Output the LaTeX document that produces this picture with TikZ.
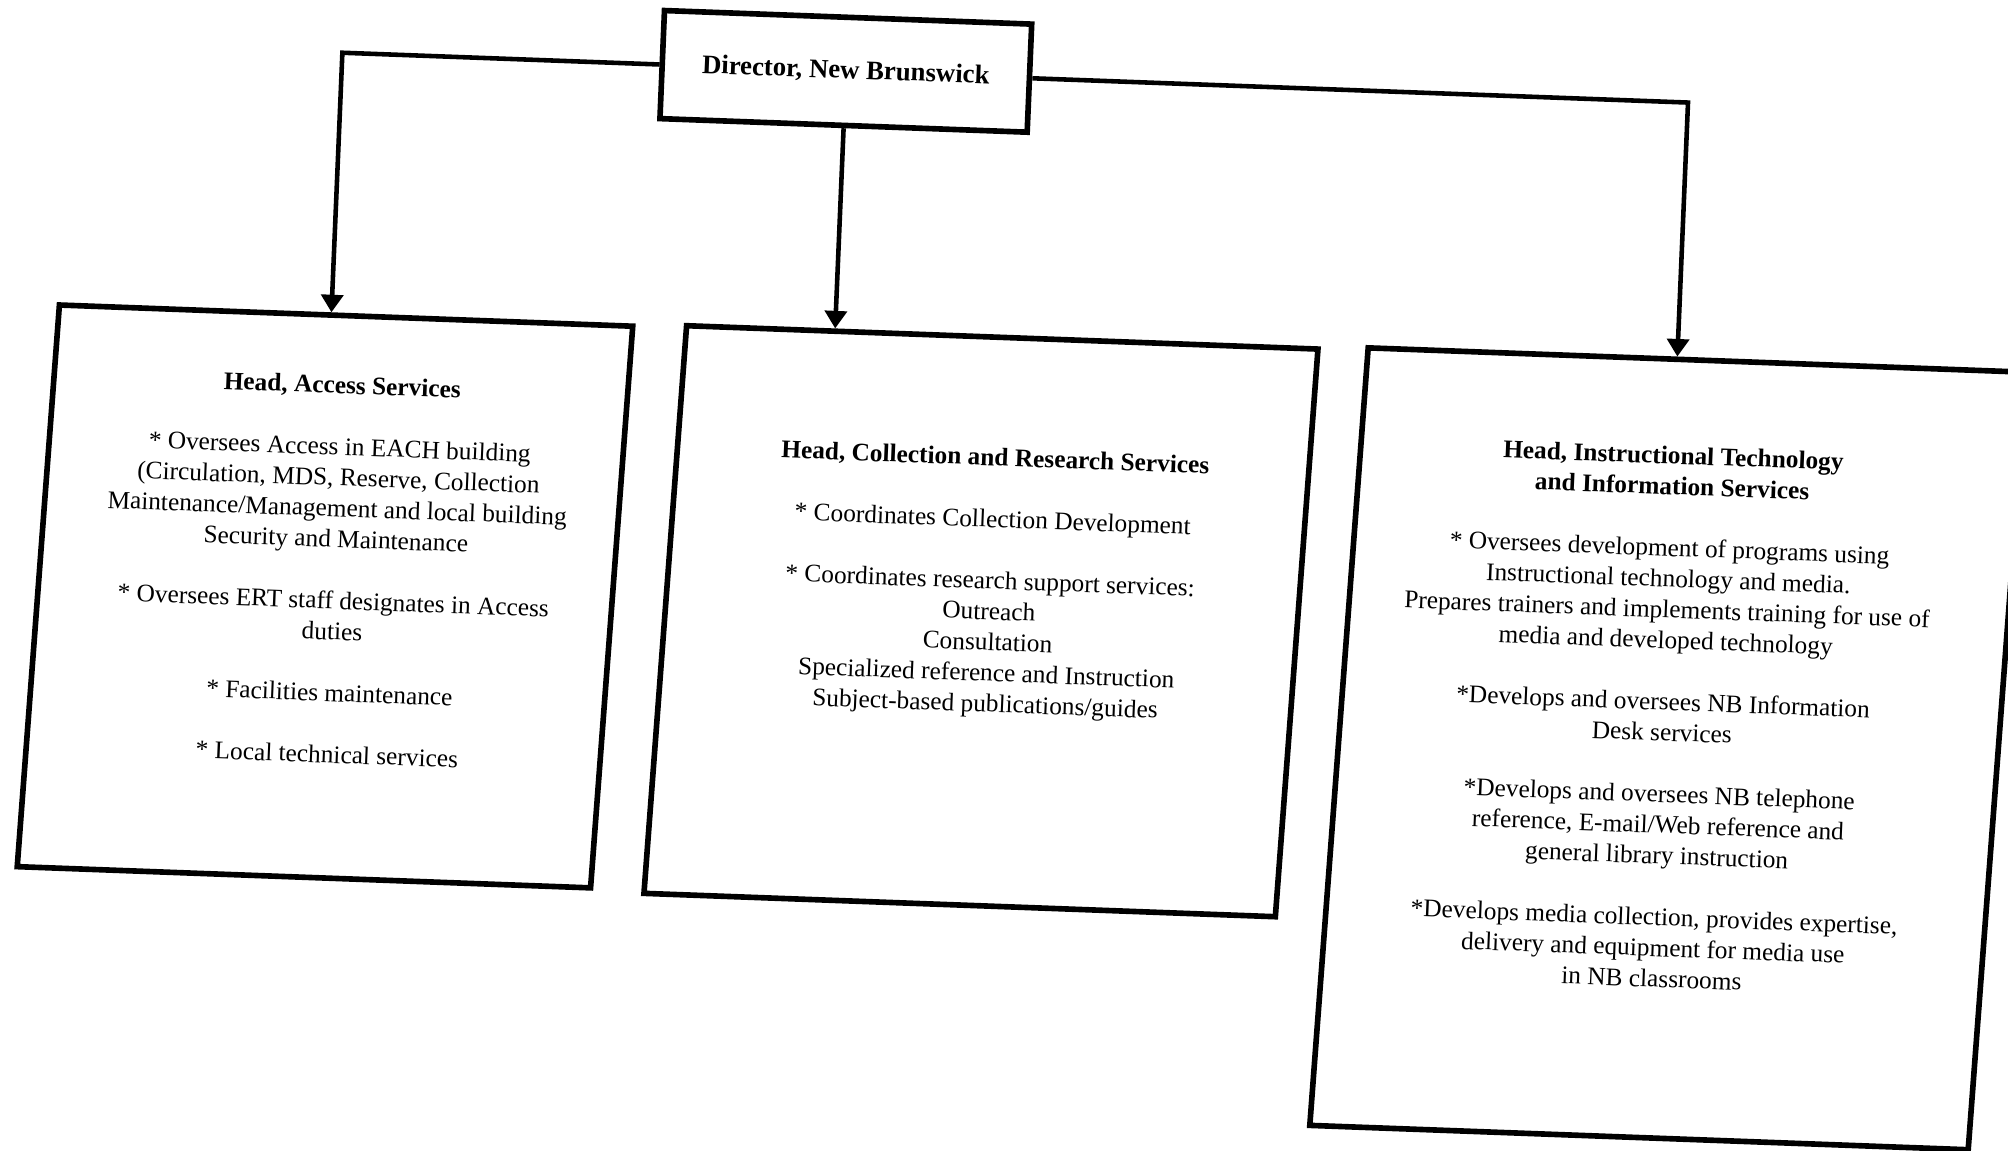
\documentclass[tikz,border=0pt]{standalone}
\usepackage{fontspec}
\setmainfont{Liberation Serif}
\usetikzlibrary{calc, arrows.meta}

\begin{document}
\begin{tikzpicture}[x = 0.01cm, y = -0.01cm,
  box/.style = {draw, line width = 1.6pt, inner sep = 0pt},
  panel/.style = {box, xslant = 0.033},
  words/.style = {align = center, inner sep = 0pt, anchor = north, font = \fontsize{7.2}{8.75}\selectfont},
  link/.style = {line width = 1.3pt, -{Triangle[length = 5pt, width = 6.2pt]}}]
\useasboundingbox (0, 0) rectangle (2008, 1151);
\begin{scope}[cm = {1, -0.037, 0.042, 1, (0, 0)}, transform shape]
% Boxes
\node[box, minimum width = 3.67cm, minimum height = 1.08cm, font = \fontsize{7.6}{9}\selectfont\bfseries] (director) at (847.5, 40) {Director, New Brunswick};
\node[panel, minimum width = 5.73cm, minimum height = 5.62cm] (access) at (349.5, 583.5) {};
\node[panel, minimum width = 6.31cm, minimum height = 5.68cm] (collection) at (1005.5, 584) {};
\node[panel, minimum width = 6.58cm, minimum height = 7.78cm] (instruct) at (1697, 686) {};
% Texts
\node[words] (accessText) at (358, 362) {\textbf{Head, Access Services}\\[8.75pt]
  * Oversees Access in EACH building\\
  (Circulation, MDS, Reserve, Collection\\
  Maintenance/Management and local building\\
  Security and Maintenance\\[8.75pt]
  * Oversees ERT staff designates in Access\\
  duties\\[8.75pt]
  * Facilities maintenance\\[8.75pt]
  * Local technical services};
\node[words] (collectionText) at (1013, 410) {\textbf{Head, Collection and Research Services}\\[8.75pt]
  * Coordinates Collection Development\\[8.75pt]
  * Coordinates research support services:\\
  Outreach\\
  Consultation\\
  Specialized reference and Instruction\\
  Subject-based publications/guides};
\node[words] (instructText) at (1690, 383) {\textbf{Head, Instructional Technology}\\
  \textbf{and Information Services}\\[8.75pt]
  * Oversees development of programs using\\
  Instructional technology and media.\\
  Prepares trainers and implements training for use of\\
  media and developed technology\\[8.75pt]
  *Develops and oversees NB Information\\
  Desk services\\[8.75pt]
  *Develops and oversees NB telephone\\
  reference, E-mail/Web reference and\\
  general library instruction\\[8.75pt]
  *Develops media collection, provides expertise,\\
  delivery and equipment for media use\\
  in NB classrooms};
% Connectors
\draw[link] (director.west) -- ($(director.west)!(access.93)!(director.east)$) -- (access.93);
\draw[link] (director.south) -- ($(collection.north west)!(director.south)!(collection.north east)$);
\draw[link] (director.east) -- ($(director.west)!(instruct.93)!(director.east)$) -- (instruct.93);
\end{scope}
\end{tikzpicture}
\end{document}
